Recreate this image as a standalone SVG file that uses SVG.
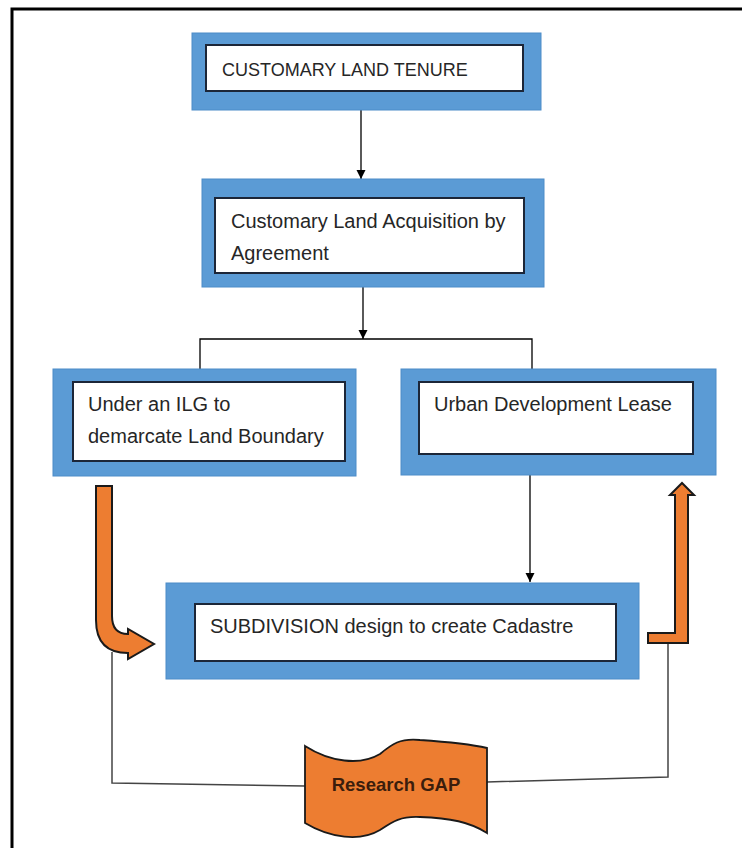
<svg xmlns="http://www.w3.org/2000/svg" width="742" height="848" viewBox="0 0 742 848">
<defs>
<style>
.outer{fill:#5b9bd5;stroke:#4d8cc8;stroke-width:1}
.inner{fill:#ffffff;stroke:#1c2638;stroke-width:2}
.t{font-family:"Liberation Sans",Arial,sans-serif;font-size:20px;fill:#262626}
.conn{stroke:#000;stroke-width:1.3;fill:none}
.gap{stroke:#444;stroke-width:1.5;fill:none}
.orange{fill:#ed7d31;stroke:#1a1a1a;stroke-width:2;stroke-linejoin:miter}
</style>
<marker id="ah" viewBox="0 0 10 10" refX="10" refY="5" markerWidth="9" markerHeight="10" markerUnits="userSpaceOnUse" orient="auto">
<path d="M0,0 L10,5 L0,10 Z" fill="#000"/>
</marker>
</defs>
<rect width="742" height="848" fill="#fff"/>
<path d="M12,848 L12,9 L742,9" fill="none" stroke="#000" stroke-width="3"/>

<g id="connectors">
<line class="conn" x1="361" y1="110" x2="361" y2="179" marker-end="url(#ah)"/>
<line class="conn" x1="363" y1="287" x2="363" y2="339" marker-end="url(#ah)"/>
<polyline class="conn" points="200,369 200,339 532,339 532,369"/>
<line class="conn" x1="530" y1="475" x2="530" y2="582" marker-end="url(#ah)"/>
<polyline class="gap" points="112,652 112,783 305,786"/>
<polyline class="gap" points="487,782 668,777 668,643"/>
<path id="arrowLeft" class="orange" d="M96,486 L112,486 L112,616 Q112,634 128,634 L128,629 L154,644 L128,659 L128,653 Q96,653 96,620 Z"/>
<path id="arrowRight" class="orange" d="M648,633 L675,633 L675,495 L670,495 L682,483 L694,495 L688,495 L688,643 L648,643 Z"/>
</g>

<g id="node-customary-tenure">
<rect class="outer" x="192" y="33" width="349" height="77"/>
<rect class="inner" x="206" y="45" width="317" height="46"/>
<text class="t" x="222" y="76" style="font-size:18px">CUSTOMARY LAND TENURE</text>
</g>

<g id="node-acquisition">
<rect class="outer" x="202" y="179" width="342" height="108"/>
<rect class="inner" x="215" y="198" width="309" height="75"/>
<text class="t" x="231" y="228">Customary Land Acquisition by</text>
<text class="t" x="231" y="260">Agreement</text>
</g>

<g id="node-ilg">
<rect class="outer" x="53" y="369" width="303" height="107"/>
<rect class="inner" x="73" y="382" width="272" height="79"/>
<text class="t" x="88" y="411">Under an ILG to</text>
<text class="t" x="88" y="443">demarcate Land Boundary</text>
</g>

<g id="node-lease">
<rect class="outer" x="401" y="369" width="315" height="106"/>
<rect class="inner" x="419" y="382" width="274" height="72"/>
<text class="t" x="434" y="411">Urban Development Lease</text>
</g>

<g id="node-subdivision">
<rect class="outer" x="166" y="583" width="473" height="96"/>
<rect class="inner" x="195" y="604" width="421" height="57"/>
<text class="t" x="210" y="633">SUBDIVISION design to create Cadastre</text>
</g>

<g id="node-research-gap">
<path d="M305,746 C330,762 360,766 380,754 C392,744 400,738 420,740 C450,742 470,744 487,748 L487,833 C470,822 450,818 420,817 C400,816 392,822 380,830 C360,842 330,838 305,823 Z" fill="#ed7d31" stroke="#1a1a1a" stroke-width="1.8"/>
<text x="396" y="791" text-anchor="middle" style="font-family:'Liberation Sans',Arial,sans-serif;font-size:18.5px;font-weight:bold;fill:#3b1d0c">Research GAP</text>
</g>
</svg>
